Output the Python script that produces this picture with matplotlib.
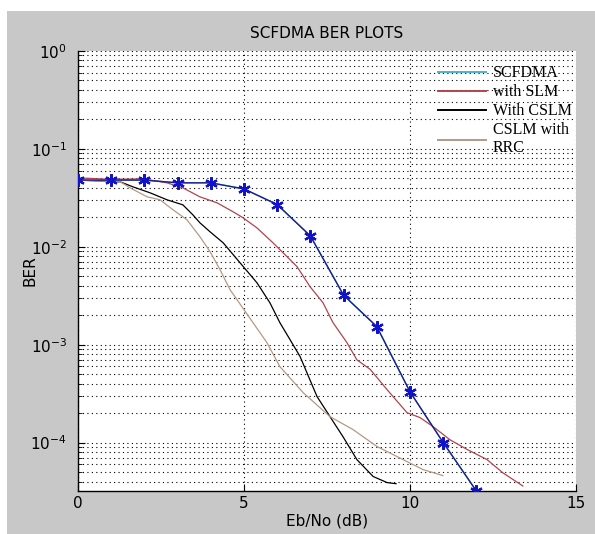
import numpy as np
import matplotlib
matplotlib.use('Agg')
from matplotlib import pyplot as plt
from matplotlib.lines import Line2D
from matplotlib.patches import Rectangle
from matplotlib.ticker import LogLocator

# SCFDMA reference curve (stars at integer Eb/No)
snr_ref = [0, 1, 2, 3, 4, 5, 6, 7, 8, 9, 10, 11, 12]
ber_ref = [0.048, 0.048, 0.048, 0.045, 0.045, 0.039, 0.027, 0.0129, 0.0032,
           0.00153, 3.3e-4, 1.0e-4, 3.2e-5]

# with SLM
snr_slm = [0, 0.96, 1.96, 2.68, 3.16, 3.67, 4.19, 4.67, 4.97, 5.39, 5.87, 6.30,
           6.60, 6.99, 7.38, 7.68, 8.10, 8.40, 8.80, 9.31, 9.91, 10.30, 10.69,
           11.20, 11.72, 12.32, 12.80, 13.40]
ber_slm = [0.0506, 0.0489, 0.0494, 0.045, 0.040, 0.0324, 0.0281, 0.0228, 0.0198,
           0.0156, 0.0110, 0.0079, 0.00625, 0.00391, 0.00268, 0.00168, 0.00105,
           7.0e-4, 5.6e-4, 3.47e-4, 2.02e-4, 1.80e-4, 1.46e-4, 1.07e-4, 8.5e-5,
           6.7e-5, 4.9e-5, 3.6e-5]

# With CSLM
snr_cslm = [0, 1.27, 1.66, 2.17, 2.68, 3.16, 3.46, 3.67, 3.98, 4.37, 4.88, 5.39,
            5.78, 6.08, 6.39, 6.69, 7.20, 7.59, 7.98, 8.40, 8.89, 9.31, 9.58]
ber_cslm = [0.048, 0.0461, 0.0409, 0.0356, 0.0302, 0.0268, 0.0212, 0.0176, 0.0142,
            0.0110, 0.00687, 0.00429, 0.00268, 0.00168, 0.00112, 7.55e-4, 2.95e-4,
            1.84e-4, 1.15e-4, 6.7e-5, 4.5e-5, 3.9e-5, 3.8e-5]

# CSLM with RRC
snr_rrc = [0, 1.27, 1.57, 2.08, 2.47, 2.86, 3.28, 3.67, 3.98, 4.28, 4.58, 4.79,
           5.27, 5.69, 6.08, 6.78, 7.59, 8.28, 9.01, 9.79, 10.39, 10.99]
ber_rrc = [0.048, 0.0461, 0.040, 0.0324, 0.0302, 0.0239, 0.0189, 0.0127, 0.00889,
           0.00582, 0.00364, 0.00288, 0.00168, 0.00105, 5.97e-4, 3.24e-4, 1.84e-4,
           1.36e-4, 9.1e-5, 6.7e-5, 5.3e-5, 4.6e-5]

legend_labels = ['SCFDMA', 'with SLM', 'With CSLM', 'CSLM with\nRRC']
legend_colors = ['#4ab4cc', '#b04450', '#000000', '#b39a86']

fig = plt.figure(figsize=(5.95, 5.34), dpi=100, facecolor='white')
fig.patches.append(Rectangle((7 / 595, 0), 1, 1 - 11 / 534, transform=fig.transFigure,
                             facecolor='#c8c8c8', edgecolor='none', zorder=-10))
ax = fig.add_axes([78 / 595, 1 - 491 / 534, 498 / 595, 440 / 534])
ax.set_facecolor('white')

ax.plot(snr_ref, ber_ref, color=legend_colors[0], lw=1.0, zorder=2)
ax.plot(snr_ref, ber_ref, color='#1c1c8a', lw=1.0, marker=(6, 2, 0), ms=9, mew=1.6,
        mec='#1212c8', zorder=5)
ax.plot(snr_slm, ber_slm, color=legend_colors[1], lw=0.9, zorder=4)
ax.plot(snr_cslm, ber_cslm, color=legend_colors[2], lw=0.9, zorder=4)
ax.plot(snr_rrc, ber_rrc, color=legend_colors[3], lw=0.9, zorder=4)

ax.set_yscale('log')
ax.set_xlim(0, 15)
ax.set_ylim(3.2e-5, 1)
ax.set_xticks([0, 5, 10, 15])
ax.yaxis.set_major_locator(LogLocator(base=10, numticks=10))
ax.yaxis.set_minor_locator(LogLocator(base=10, subs=np.arange(2, 10), numticks=20))
ax.yaxis.set_minor_formatter(plt.NullFormatter())

ax.grid(True, which='major', axis='both', color='black', ls=(0, (1, 3)), lw=0.8)
ax.grid(True, which='minor', axis='y', color='black', ls=(0, (1, 3)), lw=0.8)
ax.set_axisbelow(True)

ax.spines['top'].set_visible(False)
ax.spines['right'].set_visible(False)
ax.spines['left'].set_linewidth(1.0)
ax.spines['bottom'].set_linewidth(1.0)
ax.tick_params(which='both', direction='in', labelsize=11, top=False, right=False)
ax.tick_params(which='major', length=5)
ax.tick_params(which='minor', length=3)
ax.tick_params(axis='y', which='major', pad=8)

ax.set_title('SCFDMA BER PLOTS', fontsize=11, pad=9)
ax.set_xlabel('Eb/No (dB)', fontsize=11)
ax.set_ylabel('BER', fontsize=11)
ax.xaxis.set_label_coords(0.5, -0.052)
ax.yaxis.set_label_coords(-0.082, 0.5)

handles = [Line2D([], [], color=c, lw=1.4) for c in legend_colors]
ax.legend(handles, legend_labels, loc='upper right', bbox_to_anchor=(1.02, 1.0),
          frameon=False, prop={'family': 'Liberation Serif', 'size': 11.5},
          handlelength=3.0, handletextpad=0.4, labelspacing=0.18)

fig.savefig('out.png', dpi=100, facecolor=fig.get_facecolor())
